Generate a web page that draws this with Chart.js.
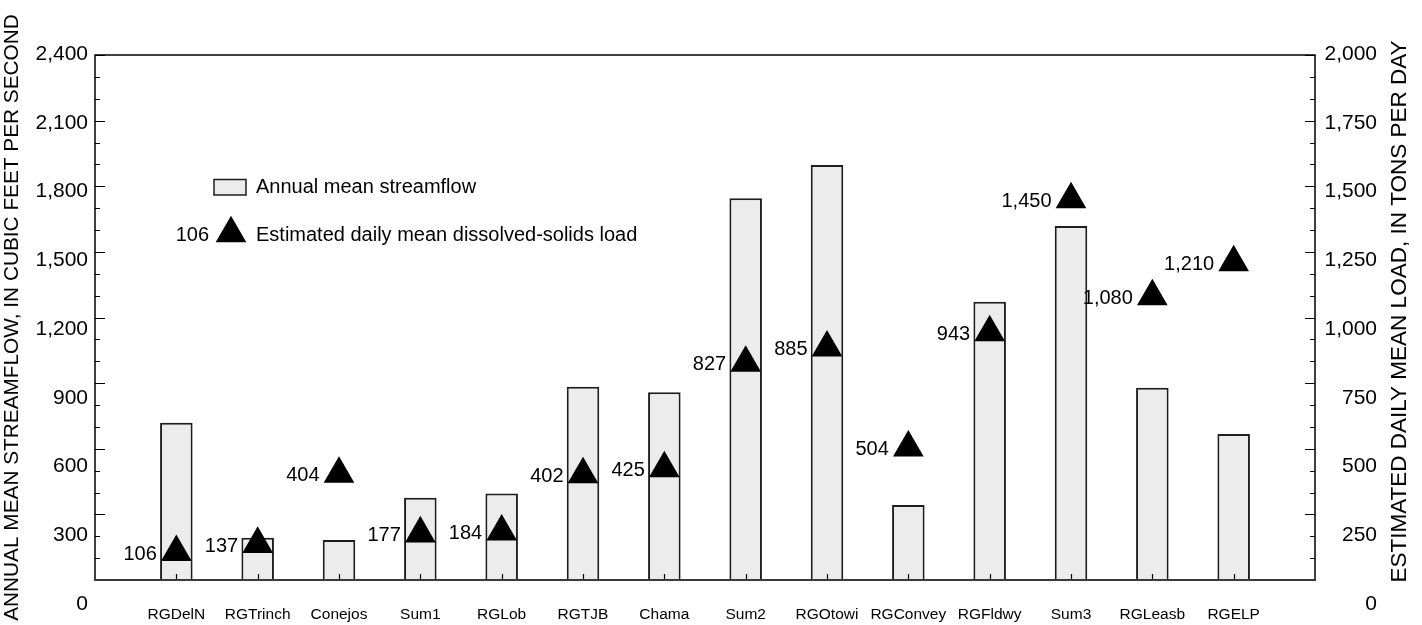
<!DOCTYPE html>
<html>
<head>
<meta charset="utf-8">
<title>Streamflow and dissolved-solids load</title>
<script src="https://cdn.jsdelivr.net/npm/chart.js@4.4.1/dist/chart.umd.min.js"></script>
<style>
  html, body { margin: 0; padding: 0; background: #ffffff; }
  #wrap { width: 1422px; height: 625px; }
</style>
</head>
<body>
<div id="wrap"><canvas id="chart" width="1422" height="625"></canvas></div>
<script>
// Gaging stations along the river, upstream to downstream
const stations = ['RGDelN', 'RGTrinch', 'Conejos', 'Sum1', 'RGLob', 'RGTJB', 'Chama',
                  'Sum2', 'RGOtowi', 'RGConvey', 'RGFldwy', 'Sum3', 'RGLeasb', 'RGELP'];

// Annual mean streamflow, cubic feet per second (left axis)
const streamflow = [719, 193, 183, 376, 396, 884, 858, 1745, 1897, 343, 1272, 1618, 879, 667];

// Estimated daily mean dissolved-solids load, tons per day (right axis)
const dissolvedLoad = [106, 137, 404, 177, 184, 402, 425, 827, 885, 504, 943, 1450, 1080, 1210];

// Labelled ticks on each vertical axis
const flowTickLabels = [0, 300, 600, 900, 1200, 1500, 1800, 2100, 2400];
const loadTickLabels = [0, 250, 500, 750, 1000, 1250, 1500, 1750, 2000];

// Tick marks along the frame (every 100 cfs, long mark every 300)
const flowTickMarks = [0, 100, 200, 300, 400, 500, 600, 700, 800, 900, 1000, 1100, 1200,
                       1300, 1400, 1500, 1600, 1700, 1800, 1900, 2000, 2100, 2200, 2300, 2400];

const leftTitle = 'ANNUAL MEAN STREAMFLOW, IN CUBIC FEET PER SECOND';
const rightTitle = 'ESTIMATED DAILY MEAN LOAD, IN TONS PER DAY';

const FONT = '"Liberation Sans", Arial, Helvetica, sans-serif';
Chart.defaults.font.family = FONT;
Chart.defaults.color = '#000000';

// an empty slot at each end of the category axis
const slotLabels = [''].concat(stations, ['']);
const padded = arr => [null].concat(arr, [null]);
const fmt = v => Number(v).toLocaleString('en-US');

// Box around the plot plus the inward tick marks
const framePlugin = {
  id: 'frame',
  afterDatasetsDraw(chart) {
    const { ctx, chartArea: a, scales } = chart;
    const y = scales.y;
    ctx.save();
    ctx.strokeStyle = '#000000';
    ctx.lineWidth = 1.5;
    ctx.beginPath();
    ctx.moveTo(a.left, a.bottom);
    ctx.lineTo(a.left, a.top);
    ctx.lineTo(a.right, a.top);
    ctx.lineTo(a.right, a.bottom);
    ctx.stroke();

    ctx.lineWidth = 1.2;
    ctx.beginPath();
    flowTickMarks.forEach(v => {
      const py = Math.round(y.getPixelForValue(v)) + 0.5;
      const len = v % 300 === 0 ? 10 : 5;
      ctx.moveTo(a.left, py); ctx.lineTo(a.left + len, py);
      ctx.moveTo(a.right, py); ctx.lineTo(a.right - len, py);
    });
    const x = scales.x;
    stations.forEach((s, i) => {
      const px = Math.round(x.getPixelForValue(i + 1)) + 0.5;
      ctx.moveTo(px, a.bottom); ctx.lineTo(px, a.bottom - 6);
    });
    ctx.stroke();

    ctx.strokeStyle = '#3a3a3a';
    ctx.lineWidth = 2;
    ctx.beginPath();
    ctx.moveTo(a.left - 1, a.bottom);
    ctx.lineTo(a.right + 1, a.bottom);
    ctx.stroke();
    ctx.restore();
  }
};

// Load value written beside each triangle
const loadLabelPlugin = {
  id: 'loadLabels',
  afterDatasetsDraw(chart) {
    const { ctx } = chart;
    const meta = chart.getDatasetMeta(0);
    ctx.save();
    ctx.font = '20px ' + FONT;
    ctx.fillStyle = '#000000';
    ctx.textAlign = 'right';
    ctx.textBaseline = 'middle';
    meta.data.forEach((pt, i) => {
      const v = chart.data.datasets[0].data[i];
      if (v === null || v === undefined) return;
      ctx.fillText(fmt(v), pt.x - 19.5, pt.y + 2);
    });
    ctx.restore();
  }
};

// Key inside the plot area
const keyPlugin = {
  id: 'key',
  afterDatasetsDraw(chart) {
    const { ctx } = chart;
    const bars = chart.data.datasets[1];
    const pts = chart.data.datasets[0];
    ctx.save();
    ctx.fillStyle = bars.backgroundColor;
    ctx.strokeStyle = bars.borderColor;
    ctx.lineWidth = 1.5;
    ctx.fillRect(214, 179.5, 32, 15.5);
    ctx.strokeRect(214, 179.5, 32, 15.5);

    const cx = 231, cy = 233.5, r = 17.7;
    ctx.fillStyle = '#000000';
    ctx.beginPath();
    ctx.moveTo(cx, cy - r);
    ctx.lineTo(cx + r * Math.sin(2 * Math.PI / 3), cy - r * Math.cos(2 * Math.PI / 3));
    ctx.lineTo(cx + r * Math.sin(4 * Math.PI / 3), cy - r * Math.cos(4 * Math.PI / 3));
    ctx.closePath();
    ctx.fill();

    ctx.font = '20px ' + FONT;
    ctx.textBaseline = 'middle';
    ctx.textAlign = 'left';
    ctx.fillText(bars.label, 256, 187);
    ctx.fillText(pts.label, 256, 235.5);
    ctx.textAlign = 'right';
    ctx.fillText(fmt(dissolvedLoad[0]), 209, 235.5);
    ctx.restore();
  }
};

// Right-hand axis title, reading bottom to top like the left one
const rightTitlePlugin = {
  id: 'rightTitle',
  afterDraw(chart) {
    const { ctx, chartArea: a } = chart;
    ctx.save();
    ctx.translate(1399.5, (a.top + a.bottom) / 2 - 6);
    ctx.rotate(-Math.PI / 2);
    ctx.font = '22.5px ' + FONT;
    ctx.fillStyle = '#000000';
    ctx.textAlign = 'center';
    ctx.textBaseline = 'middle';
    ctx.fillText(rightTitle, 0, 0);
    ctx.restore();
  }
};

new Chart(document.getElementById('chart'), {
  type: 'bar',
  data: {
    labels: slotLabels,
    datasets: [
      {
        type: 'line',
        label: 'Estimated daily mean dissolved-solids load',
        data: padded(dissolvedLoad),
        yAxisID: 'y1',
        showLine: false,
        pointStyle: 'triangle',
        pointRadius: 17.7,
        pointHoverRadius: 17.7,
        pointBackgroundColor: '#000000',
        pointBorderColor: '#000000',
        pointBorderWidth: 0,
        clip: false,
        order: 0
      },
      {
        type: 'bar',
        label: 'Annual mean streamflow',
        data: padded(streamflow),
        yAxisID: 'y',
        backgroundColor: '#ececec',
        borderColor: '#1e1e1e',
        borderWidth: 2,
        barPercentage: 0.4,
        categoryPercentage: 1,
        order: 1
      }
    ]
  },
  options: {
    responsive: false,
    animation: false,
    devicePixelRatio: 1,
    layout: { padding: { top: 55, left: 0, right: 45, bottom: 0 } },
    plugins: { legend: { display: false }, tooltip: { enabled: false } },
    scales: {
      x: {
        offset: false,
        grid: { display: false, drawTicks: false },
        border: { display: false },
        ticks: { autoSkip: false, maxRotation: 0, minRotation: 0, padding: 25, color: '#000000', font: { size: 15.5 } },
        afterFit: s => { s.height = 45; }
      },
      y: { type: 'linear', position: 'left', display: false, min: 0, max: 2400 },
      y1: { type: 'linear', position: 'right', display: false, min: 0, max: 2000 },
      yL: {
        type: 'linear',
        position: 'left',
        min: 104.7,
        max: 2395.6,
        grid: { display: false, drawTicks: false },
        border: { display: false },
        afterBuildTicks: s => { s.ticks = flowTickLabels.map(v => ({ value: v })); },
        ticks: { autoSkip: false, padding: 7, color: '#000000', font: { size: 21 }, callback: v => fmt(v) },
        title: {
          display: true,
          text: leftTitle,
          color: '#000000',
          font: { size: 20.8 },
          padding: { top: 0, bottom: 0 }
        },
        afterFit: s => { s.width = 95; }
      },
      yR: {
        type: 'linear',
        position: 'right',
        min: 87.3,
        max: 1996.4,
        grid: { display: false, drawTicks: false },
        border: { display: false },
        afterBuildTicks: s => { s.ticks = loadTickLabels.map(v => ({ value: v })); },
        ticks: { autoSkip: false, padding: 12, crossAlign: 'far', color: '#000000', font: { size: 21 }, callback: v => fmt(v) },
        afterFit: s => { s.width = 62; }
      }
    }
  },
  plugins: [framePlugin, loadLabelPlugin, keyPlugin, rightTitlePlugin]
});
</script>
</body>
</html>
